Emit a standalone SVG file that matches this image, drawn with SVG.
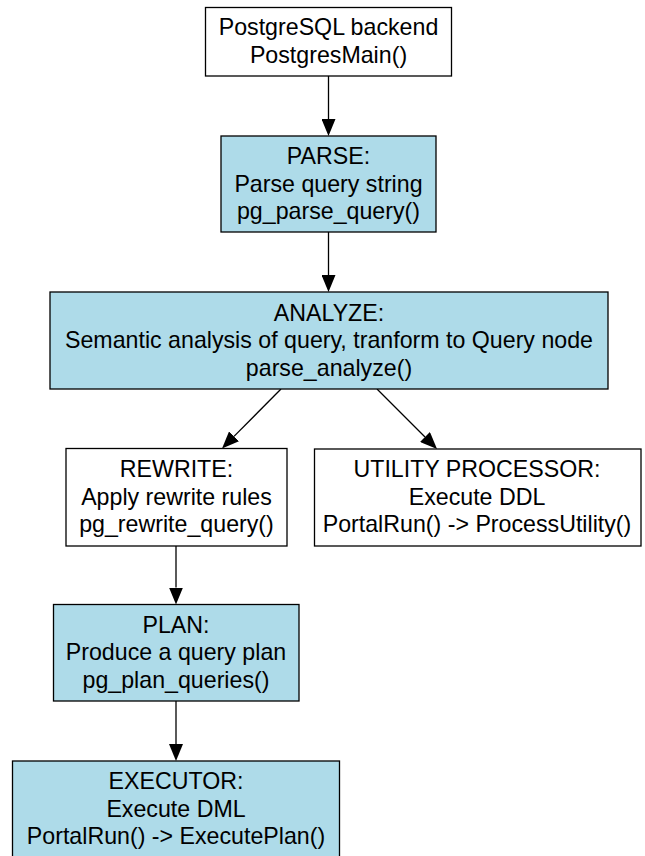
<svg xmlns="http://www.w3.org/2000/svg" width="645" height="856" viewBox="0 0 645 856">
<style>
.box{stroke:#000;stroke-width:1.3}
.plain{fill:#fff}
.blue{fill:#aedbe9}
text{font-family:"Liberation Sans",Arial,sans-serif;font-size:23.2px;fill:#000;text-anchor:middle}
.edge{stroke:#000;stroke-width:1.3;fill:none;marker-end:url(#arr)}
</style>
<defs>
<marker id="arr" markerUnits="userSpaceOnUse" viewBox="0 0 17 14" markerWidth="17" markerHeight="14" refX="0" refY="7" orient="auto">
<path d="M0,0 L17,7 L0,14 z" fill="#000"/>
</marker>
</defs>
<rect width="645" height="856" fill="#fff"/>
<g id="connectors">
<path class="edge" d="M328.5,76 L328.5,119"/>
<path class="edge" d="M328.5,232 L328.5,275"/>
<path class="edge" d="M281,389 L234,436.4"/>
<path class="edge" d="M377,389 L425,437"/>
<path class="edge" d="M176,546 L176,587.5"/>
<path class="edge" d="M176,701 L176,744"/>
</g>
<g id="backend">
<rect class="box plain" x="205.5" y="7.5" width="246" height="68.5"/>
<text x="328.5" y="35.3">PostgreSQL backend</text>
<text x="328.5" y="62.8">PostgresMain()</text>
</g>
<g id="parse">
<rect class="box blue" x="221" y="136" width="215" height="96"/>
<text x="328.5" y="164">PARSE:</text>
<text x="328.5" y="191.5">Parse query string</text>
<text x="328.5" y="219">pg_parse_query()</text>
</g>
<g id="analyze">
<rect class="box blue" x="50" y="292" width="558" height="97"/>
<text x="329" y="320.5">ANALYZE:</text>
<text x="329" y="348">Semantic analysis of query, tranform to Query node</text>
<text x="329" y="375.5">parse_analyze()</text>
</g>
<g id="rewrite">
<rect class="box plain" x="66" y="448.5" width="221" height="97.5"/>
<text x="176.5" y="477">REWRITE:</text>
<text x="176.5" y="504.5">Apply rewrite rules</text>
<text x="176.5" y="532">pg_rewrite_query()</text>
</g>
<g id="utility">
<rect class="box plain" x="314.5" y="449" width="326.5" height="97"/>
<text x="477" y="477">UTILITY PROCESSOR:</text>
<text x="477" y="504.5">Execute DDL</text>
<text x="477" y="532">PortalRun() -&gt; ProcessUtility()</text>
</g>
<g id="plan">
<rect class="box blue" x="53.5" y="604.5" width="245.5" height="96.5"/>
<text x="176" y="632.5">PLAN:</text>
<text x="176" y="660">Produce a query plan</text>
<text x="176" y="687.5">pg_plan_queries()</text>
</g>
<g id="executor">
<rect class="box blue" x="12.5" y="761" width="327" height="97"/>
<text x="176" y="789">EXECUTOR:</text>
<text x="176" y="816.5">Execute DML</text>
<text x="176" y="844">PortalRun() -&gt; ExecutePlan()</text>
</g>
</svg>
